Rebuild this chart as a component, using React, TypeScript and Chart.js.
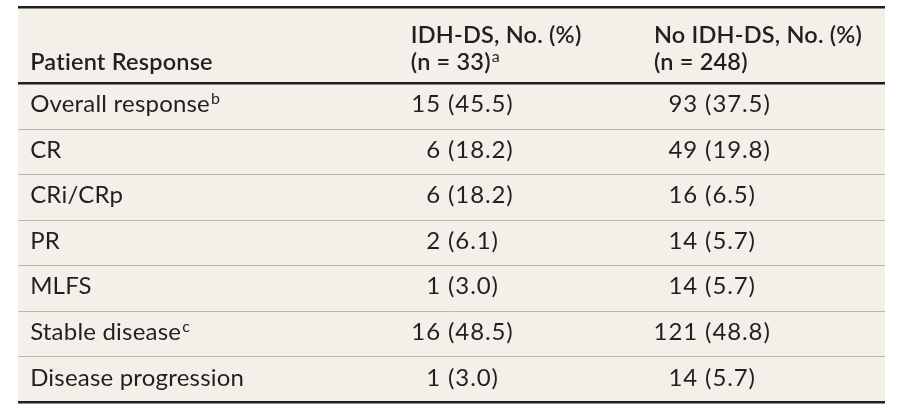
import React, { useEffect, useRef } from "react";
import { Chart, registerables } from "chart.js";

Chart.register(...registerables);

// ---- Data ----
const rowLabels = ["Overall response", "CR", "CRi/CRp", "PR", "MLFS", "Stable disease", "Disease progression"];
const rowNotes = ["b", "", "", "", "", "c", ""];
const idhCounts = [15, 6, 6, 2, 1, 16, 1];
const idhPercents = [45.5, 18.2, 18.2, 6.1, 3.0, 48.5, 3.0];
const noIdhCounts = [93, 49, 16, 14, 14, 121, 14];
const noIdhPercents = [37.5, 19.8, 6.5, 5.7, 5.7, 48.8, 5.7];
const headerLine1 = ["Patient Response", "IDH-DS, No. (%)", "No IDH-DS, No. (%)"];
const headerLine2 = ["", "(n = 33)", "(n = 248)"];
const headerNotes = ["", "a", ""];

// ---- Layout (percent of table width / row units) ----
const valueAnchors = [1.4, 49.6, 79.25]; // label left edge, "(" of each value column
const headerAnchors = [1.4, 45.3, 73.35];
const HEADER_UNITS = 1.68;
const HEADER_LINE1 = -0.88;
const HEADER_LINE2 = -0.3;
const TEXT_SHIFT = -2.7;

const FONT = "Lato";
const TEXT = "#231f20";
const BG = "#f2f0e9";

export default function App() {
  const ref = useRef<HTMLCanvasElement | null>(null);

  useEffect(() => {
    const canvas = ref.current;
    if (!canvas) return;
    const rowY = rowLabels.map((_, i) => i + 0.5);

    const bgPlugin = {
      id: "tableBg",
      beforeDraw(chart: any) {
        const { ctx, chartArea } = chart;
        ctx.save();
        ctx.fillStyle = BG;
        ctx.fillRect(chartArea.left, chartArea.top, chartArea.right - chartArea.left, chartArea.bottom - chartArea.top);
        ctx.restore();
      },
    };

    const textPlugin = {
      id: "tableText",
      afterDraw(chart: any) {
        const { ctx } = chart;
        const xs = chart.scales.x;
        const ys = chart.scales.y;
        ctx.save();
        ctx.fillStyle = TEXT;
        ctx.textBaseline = "alphabetic";

        const body = `400 24px ${FONT}`;
        const head = `600 23.5px ${FONT}`;
        const sup = `400 16px ${FONT}`;
        ctx.font = body;
        const capH = ctx.measureText("H").actualBoundingBoxAscent;
        const setLS = (v: string) => {
          (ctx as any).letterSpacing = v;
        };

        // header
        setLS("0.2px");
        for (let c = 0; c < 3; c++) {
          const x = xs.getPixelForValue(headerAnchors[c]);
          ctx.font = head;
          ctx.textAlign = "left";
          if (c === 0) {
            ctx.fillText(headerLine1[c], x, ys.getPixelForValue(HEADER_LINE2));
          } else {
            ctx.fillText(headerLine1[c], x, ys.getPixelForValue(HEADER_LINE1));
            const y2 = ys.getPixelForValue(HEADER_LINE2);
            ctx.fillText(headerLine2[c], x, y2);
            if (headerNotes[c]) {
              const w = ctx.measureText(headerLine2[c]).width;
              ctx.font = sup;
              ctx.fillText(headerNotes[c], x + w + 1, y2 - 8);
            }
          }
        }

        // body from dataset points
        const m0 = chart.getDatasetMeta(0).data;
        const m1 = chart.getDatasetMeta(1).data;
        const m2 = chart.getDatasetMeta(2).data;
        for (let r = 0; r < rowLabels.length; r++) {
          const yb = m0[r].y + capH / 2 + TEXT_SHIFT;
          setLS("0.2px");
          ctx.font = body;
          ctx.textAlign = "left";
          ctx.fillText(rowLabels[r], m0[r].x, yb);
          if (rowNotes[r]) {
            const w = ctx.measureText(rowLabels[r]).width;
            ctx.font = sup;
            ctx.fillText(rowNotes[r], m0[r].x + w + 1, yb - 8);
          }
          setLS("0.9px");
          ctx.font = body;
          ctx.textAlign = "right";
          ctx.fillText(`${idhCounts[r]} `, m1[r].x, yb);
          ctx.textAlign = "left";
          ctx.fillText(`(${idhPercents[r].toFixed(1)})`, m1[r].x, yb);
          ctx.textAlign = "right";
          ctx.fillText(`${noIdhCounts[r]} `, m2[r].x, yb);
          ctx.textAlign = "left";
          ctx.fillText(`(${noIdhPercents[r].toFixed(1)})`, m2[r].x, yb);
        }
        ctx.restore();
      },
    };

    const thick = (v: number) => Math.abs(v + HEADER_UNITS) < 1e-6 || Math.abs(v) < 1e-6 || Math.abs(v - rowLabels.length) < 1e-6;

    const chart = new Chart(canvas, {
      type: "scatter",
      data: {
        datasets: [
          { data: rowY.map((y) => ({ x: valueAnchors[0], y })), pointRadius: 0 },
          { data: rowY.map((y) => ({ x: valueAnchors[1], y })), pointRadius: 0 },
          { data: rowY.map((y) => ({ x: valueAnchors[2], y })), pointRadius: 0 },
        ],
      },
      options: {
        animation: false,
        responsive: false,
        events: [],
        layout: { padding: { left: 18, right: 14, top: 7, bottom: 9.5 } },
        plugins: { legend: { display: false }, tooltip: { enabled: false } },
        scales: {
          x: { type: "linear", min: 0, max: 100, display: false },
          y: {
            type: "linear",
            reverse: true,
            min: -HEADER_UNITS,
            max: rowLabels.length,
            afterBuildTicks(scale: any) {
              const t = [{ value: -HEADER_UNITS }];
              for (let i = 0; i <= rowLabels.length; i++) t.push({ value: i });
              scale.ticks = t;
            },
            ticks: { display: false },
            border: { display: false },
            grid: {
              drawTicks: false,
              color: (ctx: any) => (thick(ctx.tick.value) ? "#231f20" : "#b9b7ae"),
              lineWidth: (ctx: any) => (thick(ctx.tick.value) ? 2.5 : 1),
            },
          },
        },
      },
      plugins: [bgPlugin, textPlugin],
    });
    return () => chart.destroy();
  }, []);

  return (
    <div style={{ position: "absolute", left: 0, top: 0, width: 899, height: 412, background: "#ffffff" }}>
      <canvas ref={ref} width={899} height={412} />
    </div>
  );
}
